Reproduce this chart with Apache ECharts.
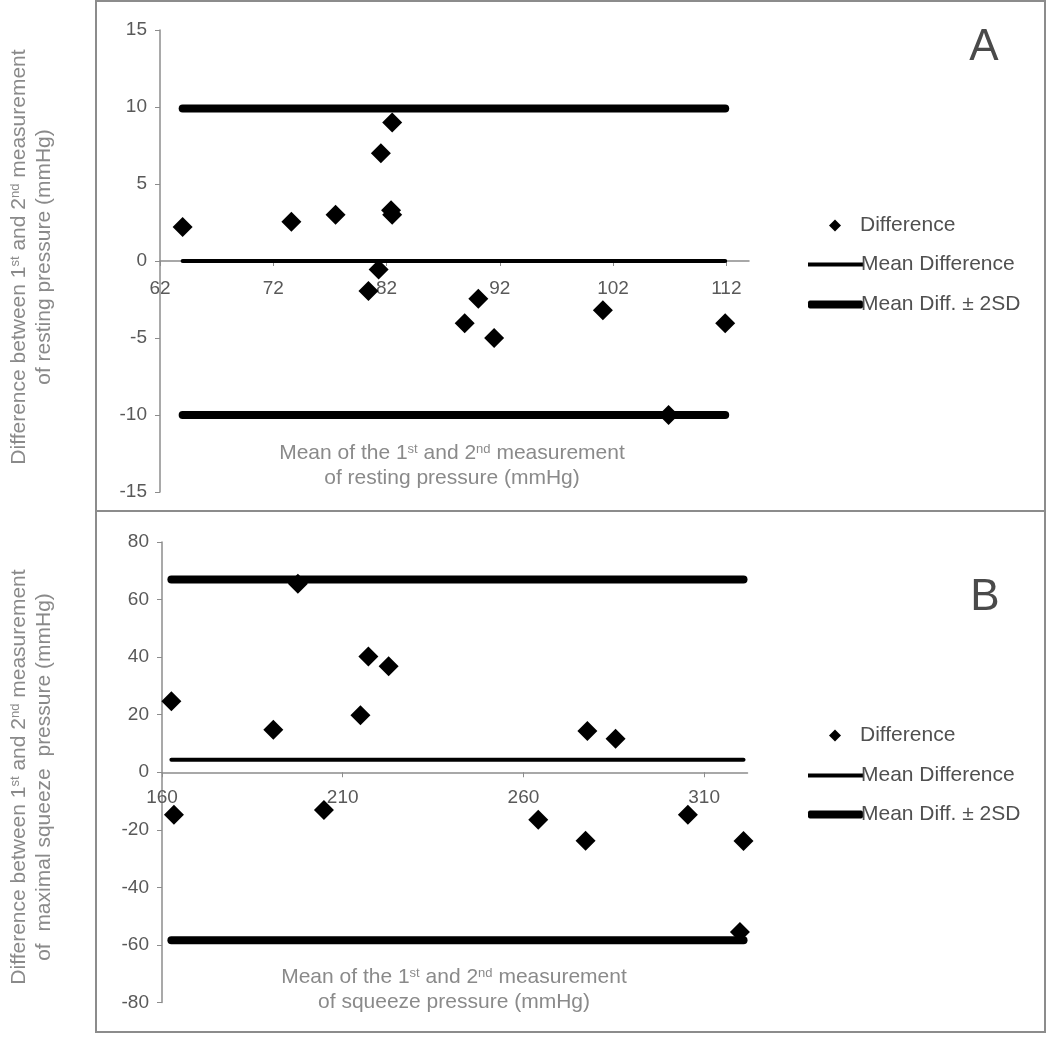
<!DOCTYPE html>
<html>
<head>
<meta charset="utf-8">
<script src="https://cdn.jsdelivr.net/npm/echarts@6/dist/echarts.min.js"></script>
<style>
html,body{margin:0;padding:0;background:#fff;}
#chart{width:1050px;height:1038px;}
</style>
</head>
<body>
<div id="chart"></div>
<script>
// ---------- Panel A: resting pressure ----------
const meanA = [64.0, 73.6, 77.5, 81.5, 82.5, 82.4, 82.5, 81.3, 80.4, 88.9, 90.1, 91.5, 101.1, 111.9, 106.9];
const diffA = [2.2, 2.55, 3.0, 7.0, 9.0, 3.3, 3.0, -0.55, -1.95, -4.05, -2.45, -5.0, -3.2, -4.05, -10.0];
const meanDiffA = 0.0;
const upperA = 9.9;
const lowerA = -10.0;
const xTicksA = [62, 72, 82, 92, 102, 112];

// ---------- Panel B: squeeze pressure ----------
const meanB = [162.6, 163.3, 190.8, 197.6, 204.8, 214.9, 217.1, 222.7, 264.1, 277.7, 277.2, 285.5, 305.5, 320.9, 319.9];
const diffB = [24.7, -14.8, 14.8, 65.5, -13.1, 19.8, 40.2, 36.8, -16.5, 14.3, -23.8, 11.6, -14.8, -23.9, -55.5];
const meanDiffB = 4.3;
const upperB = 67.0;
const lowerB = -58.4;
const xTicksB = [160, 210, 260, 310];

const seriesNames = ['Difference', 'Mean Difference', 'Mean Diff. \u00b1 2SD'];

const FONT = '"Liberation Sans", Arial, sans-serif';
const LABEL_COLOR = '#595959';
const TITLE_COLOR = '#8a8a8a';
const AXIS_COLOR = '#8c8c8c';

const gridA = { left: 160, top: 30, width: 589, height: 462 };
const gridB = { left: 162, top: 542, width: 585.5, height: 460.5 };

function pairs(xs, ys) { return xs.map((x, i) => [x, ys[i]]); }
function hline(xs, y) { return [[Math.min(...xs), y], [Math.max(...xs), y]]; }

function xAxisCfg(gridIndex, min, max, ticks, grid, ymin, ymax, margin) {
  // move the x axis (line, ticks and labels) up to y = 0 of its panel
  const off = -grid.height * (0 - ymin) / (ymax - ymin);
  return {
    type: 'value', gridIndex, min, max, position: 'bottom', offset: off,
    axisLine: { onZero: false, lineStyle: { color: AXIS_COLOR, width: 1.5 } },
    axisTick: { show: true, length: 5, customValues: ticks, lineStyle: { color: AXIS_COLOR } },
    axisLabel: { customValues: ticks, margin, fontSize: 19, color: LABEL_COLOR, fontFamily: FONT },
    splitLine: { show: false }
  };
}
function yAxisCfg(gridIndex, min, max, interval) {
  return {
    type: 'value', gridIndex, min, max, interval,
    axisLine: { show: true, onZero: false, lineStyle: { color: AXIS_COLOR, width: 1.5 } },
    axisTick: { show: true, length: 5, lineStyle: { color: AXIS_COLOR } },
    axisLabel: { margin: 13, fontSize: 19, color: LABEL_COLOR, fontFamily: FONT },
    splitLine: { show: false }
  };
}
function panelSeries(idx, xs, ys, md, up, lo) {
  const base = { xAxisIndex: idx, yAxisIndex: idx, animation: false };
  return [
    Object.assign({}, base, {
      type: 'line', name: seriesNames[2], data: hline(xs, up), symbol: 'none', z: 2,
      itemStyle: { color: '#000' }, lineStyle: { color: '#000', width: 8, cap: 'round' }
    }),
    Object.assign({}, base, {
      type: 'line', name: seriesNames[2], data: hline(xs, lo), symbol: 'none', z: 2,
      itemStyle: { color: '#000' }, lineStyle: { color: '#000', width: 8, cap: 'round' }
    }),
    Object.assign({}, base, {
      type: 'line', name: seriesNames[1], data: hline(xs, md), symbol: 'none', z: 2,
      itemStyle: { color: '#000' }, lineStyle: { color: '#000', width: 4, cap: 'round' }
    }),
    Object.assign({}, base, {
      type: 'scatter', name: seriesNames[0], data: pairs(xs, ys), symbol: 'diamond', symbolSize: 20, z: 5,
      itemStyle: { color: '#000', opacity: 1 }
    })
  ];
}
const legendText = { fontSize: 21, color: '#505050', fontFamily: FONT };
function legendSet(c1, c2, c3) {
  return [
    {
      orient: 'vertical', left: 824, top: c1 - 13, itemWidth: 12, itemHeight: 12, selectedMode: false,
      textStyle: Object.assign({ padding: [0, 0, 0, 14] }, legendText),
      data: [{ name: seriesNames[0], icon: 'diamond', itemStyle: { color: '#000', opacity: 1 } }]
    },
    {
      orient: 'vertical', left: 803, top: c2 - 13, itemWidth: 55, itemHeight: 4, selectedMode: false,
      textStyle: Object.assign({ padding: [0, 0, 0, -7] }, legendText),
      data: [{ name: seriesNames[1], icon: 'rect', itemStyle: { color: '#000' } }]
    },
    {
      orient: 'vertical', left: 803, top: c3 - 13, itemWidth: 55, itemHeight: 8, selectedMode: false,
      textStyle: Object.assign({ padding: [0, 0, 0, -7] }, legendText),
      data: [{ name: seriesNames[2], icon: 'roundRect', itemStyle: { color: '#000' } }]
    }
  ];
}
const rich = {
  n: { fontSize: 21, fontFamily: FONT, color: TITLE_COLOR, lineHeight: 25 },
  s: { fontSize: 13, fontFamily: FONT, color: TITLE_COLOR, lineHeight: 25, verticalAlign: 'top', padding: [2, 0, 0, 0] }
};
function richTitle(line1a, line1b, line1c, line2) {
  return '{n|' + line1a + '}{s|st}{n|' + line1b + '}{s|nd}{n|' + line1c + '}\n{n|' + line2 + '}';
}
function textEl(x, y, text, rot) {
  return {
    type: 'text', x, y, rotation: rot || 0, silent: true, z: 10,
    style: { text, rich, align: 'center', verticalAlign: 'middle', fill: TITLE_COLOR, font: '21px ' + FONT }
  };
}

const option = {
  animation: false,
  backgroundColor: '#fff',
  grid: [gridA, gridB],
  xAxis: [xAxisCfg(0, 62, 114, xTicksA, gridA, -15, 15, 18), xAxisCfg(1, 160, 322, xTicksB, gridB, -80, 80, 16)],
  yAxis: [yAxisCfg(0, -15, 15, 5), yAxisCfg(1, -80, 80, 20)],
  legend: [].concat(legendSet(223, 262, 302), legendSet(733, 773, 812)),
  series: [].concat(
    panelSeries(0, meanA, diffA, meanDiffA, upperA, lowerA),
    panelSeries(1, meanB, diffB, meanDiffB, upperB, lowerB)
  ),
  graphic: [
    { type: 'rect', shape: { x: 96, y: 1, width: 949, height: 510 }, style: { fill: 'none', stroke: '#8c8c8c', lineWidth: 2 }, silent: true },
    { type: 'rect', shape: { x: 96, y: 511, width: 949, height: 521 }, style: { fill: 'none', stroke: '#8c8c8c', lineWidth: 2 }, silent: true },
    { type: 'text', x: 984, y: 48, silent: true, style: { text: 'A', font: '44px ' + FONT, fill: '#4a4a4a', align: 'center', verticalAlign: 'middle' } },
    { type: 'text', x: 985, y: 598, silent: true, style: { text: 'B', font: '44px ' + FONT, fill: '#4a4a4a', align: 'center', verticalAlign: 'middle' } },
    textEl(452, 466, richTitle('Mean of the 1', ' and 2', ' measurement', 'of resting pressure (mmHg)')),
    textEl(454, 990, richTitle('Mean of the 1', ' and 2', ' measurement', 'of squeeze pressure (mmHg)')),
    textEl(32, 257, richTitle('Difference between 1', ' and 2', ' measurement', 'of resting pressure (mmHg)'), Math.PI / 2),
    textEl(32, 777, richTitle('Difference between 1', ' and 2', ' measurement', 'of  maximal squeeze  pressure (mmHg)'), Math.PI / 2)
  ]
};

const chart = echarts.init(document.getElementById('chart'), null, { renderer: 'canvas' });
chart.setOption(option);
</script>
</body>
</html>
